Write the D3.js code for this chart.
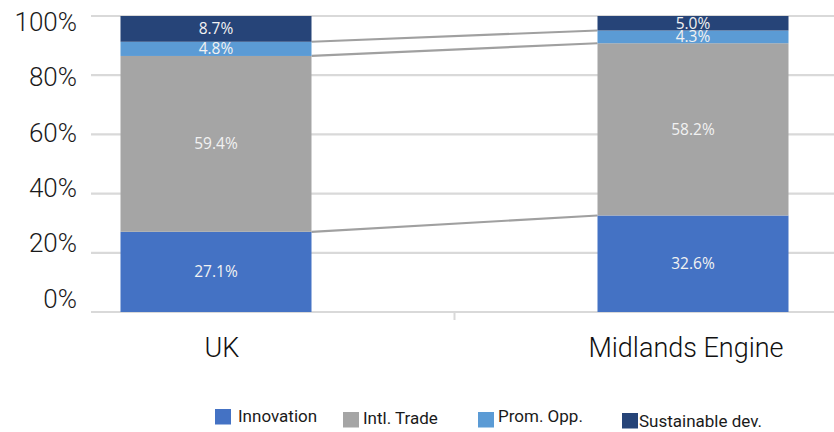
<!DOCTYPE html>
<html><head><meta charset="utf-8">
<script src="https://cdn.jsdelivr.net/npm/d3@7"></script>
<style>body{margin:0;background:#fff} svg{display:block}</style>
</head><body><svg id="c" width="834" height="432"></svg>
<script>
// ---- data ----
const categories = ["UK", "Midlands Engine"];
const seriesNames = ["Innovation", "Intl. Trade", "Prom. Opp.", "Sustainable dev."];
const innovation = [27.1, 32.6];
const intlTrade = [59.4, 58.2];
const promOpp = [4.8, 4.3];
const sustainableDev = [8.7, 5.0];
const yTicks = [0, 20, 40, 60, 80, 100];

// ---- styles / layout ----
const colors = ["#4472C4", "#A5A5A5", "#5B9BD5", "#264478"];
const plotLeft = 91, plotRight = 834;
const barWidth = 191;
const legendBoxX = [215, 343, 478, 622];
const legendBoxY = [409, 412, 412, 413];
const legendTextX = [238, 363, 498, 639];
const legendTextY = [416, 418, 416, 421];
const catLabelDx = [6, -7];

const svg = d3.select("#c");
const rows = categories.map((c, i) => ({
  cat: c,
  [seriesNames[0]]: innovation[i],
  [seriesNames[1]]: intlTrade[i],
  [seriesNames[2]]: promOpp[i],
  [seriesNames[3]]: sustainableDev[i]
}));
const stack = d3.stack().keys(seriesNames)(rows);

const y = d3.scaleLinear().domain([0, 100]).range([312, 16]);
const yLab = d3.scaleLinear().domain([0, 100]).range([299, 22]);
const x = d3.scalePoint().domain(categories).range([216, 693]);
const color = d3.scaleOrdinal().domain(seriesNames).range(colors);

// gridlines
svg.append("g").selectAll("line").data(yTicks).join("line")
  .attr("x1", plotLeft).attr("x2", plotRight)
  .attr("y1", d => y(d)).attr("y2", d => y(d))
  .attr("stroke", "#d9d9d9").attr("stroke-width", 2.2);

// divider tick
const mid = (x(categories[0]) + x(categories[1])) / 2;
svg.append("line").attr("x1", mid).attr("x2", mid).attr("y1", y(0)).attr("y2", y(0) + 8)
  .attr("stroke", "#d9d9d9").attr("stroke-width", 2);

// y axis labels
const yAxis = d3.axisLeft(yLab).tickValues(yTicks).tickSize(0).tickPadding(0).tickFormat(d => d + "%");
const gy = svg.append("g").attr("transform", "translate(77,0)").call(yAxis);
gy.select(".domain").remove();
gy.selectAll("text").attr("font-family", "Roboto").attr("font-weight", 300)
  .attr("font-size", 26).attr("fill", "#1a1a1a");

// connectors
const x0 = x(categories[0]) + barWidth / 2, x1 = x(categories[1]) - barWidth / 2;
svg.append("g").selectAll("line").data(stack.slice(0, 3)).join("line")
  .attr("x1", x0).attr("x2", x1)
  .attr("y1", s => y(s[0][1])).attr("y2", s => y(s[1][1]))
  .attr("stroke", "#a0a0a0").attr("stroke-width", 2.2);

// bars
const gs = svg.append("g").selectAll("g").data(stack).join("g").attr("fill", s => color(s.key));
gs.selectAll("rect").data(s => s).join("rect")
  .attr("x", d => x(d.data.cat) - barWidth / 2)
  .attr("width", barWidth)
  .attr("y", d => y(Math.min(d[1], 100)))
  .attr("height", d => y(d[0]) - y(Math.min(d[1], 100)));

// data labels
const fmt = d3.format(".1f");
svg.append("g").selectAll("g").data(stack).join("g")
  .selectAll("text").data(s => s.map(d => ({d, key: s.key}))).join("text")
  .attr("x", o => x(o.d.data.cat))
  .attr("y", o => (y(o.d[0]) + y(Math.min(o.d[1], 100))) / 2)
  .attr("dy", "0.36em")
  .attr("text-anchor", "middle")
  .attr("font-family", "Open Sans").attr("font-size", 15.5)
  .attr("fill", "#f2f2f2")
  .text(o => fmt(o.d.data[o.key]) + "%");

// category labels
svg.append("g").selectAll("text").data(categories).join("text")
  .attr("x", (c, i) => x(c) + catLabelDx[i]).attr("y", 357)
  .attr("text-anchor", "middle")
  .attr("font-family", "Roboto").attr("font-weight", 300)
  .attr("font-size", 27).attr("fill", "#111")
  .text(c => c);

// legend
const lg = svg.append("g").selectAll("g").data(seriesNames).join("g");
lg.append("rect").attr("x", (d, i) => legendBoxX[i]).attr("y", (d, i) => legendBoxY[i])
  .attr("width", 16).attr("height", 15.5).attr("fill", d => color(d));
lg.append("text").attr("x", (d, i) => legendTextX[i]).attr("y", (d, i) => legendTextY[i])
  .attr("dy", "0.35em").attr("font-family", "Roboto").attr("font-size", 17).attr("fill", "#1a1a1a")
  .text(d => d);
</script></body></html>
